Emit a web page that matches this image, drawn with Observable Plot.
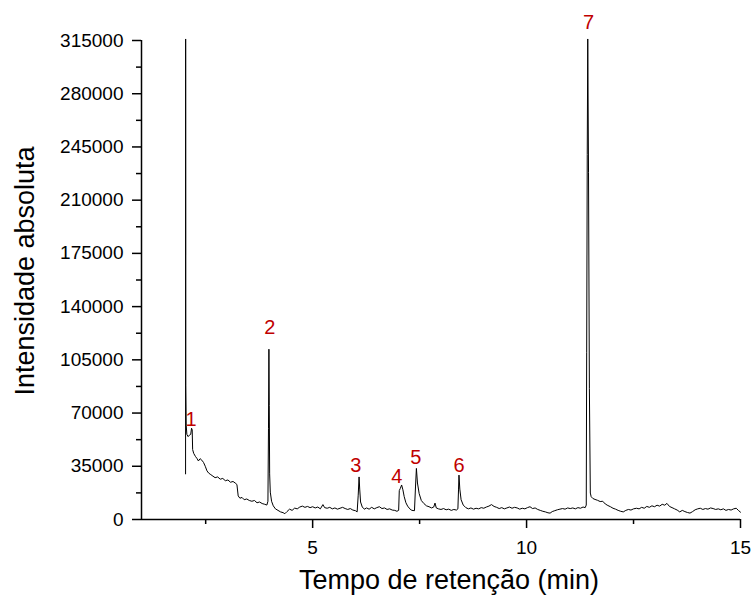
<!DOCTYPE html>
<html>
<head>
<meta charset="utf-8">
<script src="https://cdn.jsdelivr.net/npm/d3@7"></script>
<script src="https://cdn.jsdelivr.net/npm/@observablehq/plot@0.6"></script>
<style>
  html, body { margin: 0; padding: 0; background: #fff; }
  #chart { width: 754px; height: 595px; }
</style>
</head>
<body>
<div id="chart"></div>
<script>
// Retention time (min)
const time = [
  2.03, 2.032, 2.035, 2.045, 2.06, 2.09, 2.12, 2.15, 2.17, 2.185, 2.195, 2.22, 2.26, 2.30, 2.33, 2.37, 2.41, 2.45, 2.49, 2.53,
  2.57, 2.62, 2.67, 2.72, 2.78, 2.84, 2.90, 2.96, 3.02, 3.08, 3.14, 3.19, 3.23, 3.26, 3.30, 3.35, 3.40, 3.46, 3.52, 3.58,
  3.64, 3.70, 3.76, 3.82, 3.88, 3.93, 3.955, 3.968, 3.978, 3.986, 3.995, 4.01, 4.04, 4.08, 4.13, 4.19, 4.25, 4.31, 4.35, 4.40,
  4.46, 4.52, 4.58, 4.64, 4.70, 4.76, 4.82, 4.88, 4.94, 5.00, 5.06, 5.12, 5.18, 5.24, 5.28, 5.34, 5.40, 5.46, 5.52, 5.58,
  5.64, 5.70, 5.76, 5.82, 5.88, 5.94, 6.00, 6.04, 6.065, 6.085, 6.10, 6.12, 6.16, 6.21, 6.26, 6.32, 6.38, 6.44, 6.50, 6.56,
  6.62, 6.68, 6.74, 6.80, 6.86, 6.92, 6.97, 7.01, 7.025, 7.05, 7.08, 7.11, 7.14, 7.18, 7.22, 7.27, 7.32, 7.38, 7.405, 7.425,
  7.45, 7.49, 7.54, 7.60, 7.66, 7.72, 7.78, 7.83, 7.86, 7.89, 7.94, 8.00, 8.06, 8.12, 8.18, 8.24, 8.30, 8.36, 8.395, 8.41,
  8.42, 8.44, 8.47, 8.52, 8.58, 8.64, 8.70, 8.76, 8.82, 8.88, 8.94, 9.00, 9.06, 9.12, 9.18, 9.24, 9.30, 9.36, 9.42, 9.48,
  9.54, 9.60, 9.66, 9.72, 9.78, 9.84, 9.90, 9.96, 10.02, 10.08, 10.14, 10.20, 10.26, 10.32, 10.38, 10.44, 10.50, 10.55, 10.60, 10.66,
  10.72, 10.78, 10.84, 10.90, 10.96, 11.02, 11.08, 11.14, 11.20, 11.26, 11.32, 11.37, 11.395, 11.405, 11.418, 11.43, 11.448, 11.468, 11.49, 11.51,
  11.55, 11.60, 11.66, 11.72, 11.78, 11.84, 11.90, 11.96, 12.02, 12.08, 12.14, 12.20, 12.26, 12.32, 12.38, 12.44, 12.50, 12.57, 12.63, 12.69,
  12.75, 12.81, 12.87, 12.93, 12.99, 13.05, 13.11, 13.17, 13.23, 13.28, 13.34, 13.40, 13.46, 13.52, 13.58, 13.64, 13.70, 13.76, 13.82, 13.88,
  13.94, 14.00, 14.06, 14.12, 14.18, 14.24, 14.30, 14.36, 14.42, 14.48, 14.54, 14.60, 14.66, 14.72, 14.78, 14.84, 14.90, 14.95, 15.00
];
// Absolute intensity
const intensity = [
  30000, 316000, 88000, 62000, 56000, 54500, 55500, 56000, 60000, 59000, 46000, 43500, 41500, 40000, 38500, 40000, 39000, 37500, 35000, 32000,
  30500, 29500, 28500, 27500, 28000, 26500, 27000, 25500, 26000, 24500, 25000, 24000, 23000, 15500, 14000, 14500, 13000, 13500, 12500, 12000,
  12500, 11000, 11500, 10500, 10000, 9500, 12000, 60000, 112000, 75000, 30000, 18000, 12000, 9000, 7000, 6000, 5000, 4500, 3800, 5200,
  6800, 6000, 7500, 7000, 8200, 8800, 8000, 8600, 7800, 8400, 7600, 8200, 7000, 9800, 7800, 7400, 8000, 7000, 7600, 6800,
  7400, 8000, 7200, 6600, 7200, 6200, 5800, 5000, 16000, 28000, 20000, 11500, 8200, 6800, 7600, 6800, 8000, 7000, 7800, 8400,
  7200, 7600, 6600, 7000, 6200, 6000, 5400, 6000, 19000, 20500, 22700, 19500, 15000, 11000, 8800, 7000, 6000, 5800, 22000, 33600,
  24000, 17000, 12500, 10500, 9000, 8400, 7600, 8200, 10800, 7600, 7000, 6600, 7200, 6400, 6800, 6000, 6600, 6200, 7000, 20000,
  29200, 20000, 13000, 9500, 7800, 7000, 7600, 6800, 7400, 7000, 7800, 7400, 8200, 8800, 9800, 8600, 8000, 7200, 7800, 7000,
  7600, 8200, 7400, 8000, 7600, 6800, 7400, 7000, 7800, 8400, 7200, 7600, 6600, 6000, 5400, 5000, 4400, 4200, 5200, 5800,
  6400, 6800, 7200, 6800, 7600, 7200, 7600, 7000, 7800, 7400, 8200, 7800, 9500, 110000, 240000, 316000, 228000, 86000, 17400, 15000,
  13800, 13200, 12600, 11800, 12000, 10200, 9200, 8400, 7400, 6800, 6000, 5400, 5000, 6000, 6600, 6200, 7000, 7400, 7000, 8000,
  7400, 8600, 8000, 9000, 8400, 9400, 8800, 10000, 9400, 10600, 8600, 7800, 7000, 6200, 5000, 6000, 5200, 4600, 4200, 5200,
  6400, 7000, 7400, 6600, 7200, 6800, 7600, 7200, 6600, 7000, 6400, 7000, 6000, 6600, 6200, 7000, 7400, 6000, 4800
];

// Peak labels and where they sit (time, intensity)
const peakNames = ["1", "2", "3", "4", "5", "6", "7"];
const peakLabelTime = [2.16, 4.00, 6.01, 6.97, 7.41, 8.42, 11.45];
const peakLabelIntensity = [65400, 125900, 35200, 27900, 40400, 35200, 327000];

// Ticks
const yTicks = [0, 35000, 70000, 105000, 140000, 175000, 210000, 245000, 280000, 315000];
const yMinorTicks = [17500, 52500, 87500, 122500, 157500, 192500, 227500, 262500, 297500];
const xTicks = [5, 10, 15];
const xMinorTicks = [2.5, 7.5, 12.5];

const xLabel = "Tempo de retenção (min)";
const yLabel = "Intensidade absoluta";

const data = time.map((t, i) => ({t, v: intensity[i]}));
const peaks = peakNames.map((n, i) => ({n, t: peakLabelTime[i], v: peakLabelIntensity[i]}));

const font = "'Liberation Sans', Arial, sans-serif";

const chart = Plot.plot({
  width: 754,
  height: 595,
  marginLeft: 141,
  marginRight: 14,
  marginTop: 40,
  marginBottom: 76,
  style: {fontFamily: font, fontSize: "19px", color: "#000", background: "#fff", overflow: "visible"},
  x: {domain: [1, 15]},
  y: {domain: [0, 315000]},
  marks: [
    Plot.axisY({ticks: yTicks, tickSize: 9, tickPadding: 9, tickFormat: d => String(d), strokeWidth: 1.5, label: null, fontSize: 19}),
    Plot.axisY({ticks: yMinorTicks, tickSize: 5, tickFormat: () => "", strokeWidth: 1.5, label: null}),
    Plot.axisX({ticks: xTicks, tickSize: 9, tickPadding: 12, tickFormat: d => String(d), strokeWidth: 1.5, label: null, fontSize: 19}),
    Plot.axisX({ticks: xMinorTicks, tickSize: 5, tickFormat: () => "", strokeWidth: 1.5, label: null}),
    Plot.text([yLabel], {text: d => d, frameAnchor: "left", textAnchor: "middle", rotate: -90, dx: -116, dy: -9, fontSize: 27, lineAnchor: "middle", fill: "#000"}),
    Plot.text([xLabel], {text: d => d, frameAnchor: "bottom", textAnchor: "middle", dx: 8, dy: 61, fontSize: 27, lineAnchor: "middle", fill: "#000"}),
    Plot.ruleX([1], {strokeWidth: 1.5}),
    Plot.ruleY([0], {strokeWidth: 1.5}),
    Plot.line(data, {x: "t", y: "v", stroke: "#000", strokeWidth: 1, clip: false}),
    Plot.text(peaks, {x: "t", y: "v", text: "n", fill: "#c00000", fontSize: 20})
  ]
});
document.getElementById("chart").appendChild(chart);
</script>
</body>
</html>
